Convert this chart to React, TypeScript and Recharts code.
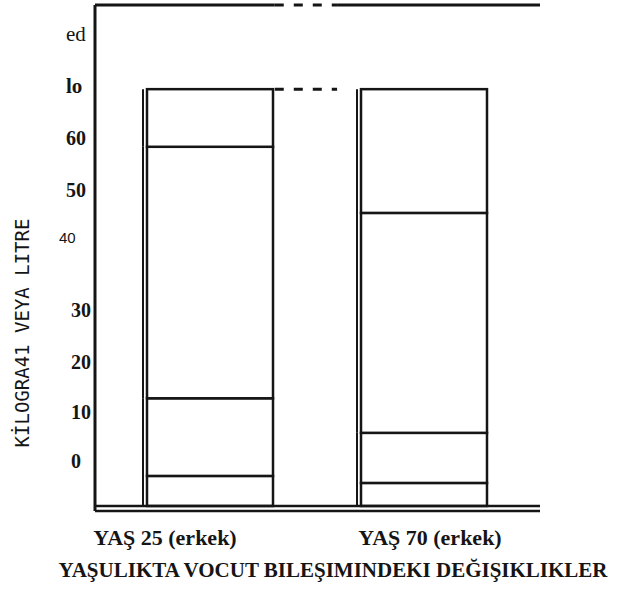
import { BarChart, Bar, XAxis, YAxis, ReferenceLine } from 'recharts';

// two age groups, body composition stacked from the bottom up
const CATEGORIES = ['YAŞ 25 (erkek)', 'YAŞ 70 (erkek)'];
const SEG_BOTTOM = [6.0, 4.6];
const SEG_LOW = [15.5, 10.0];
const SEG_MID = [50.2, 43.9];
const SEG_TOP = [11.5, 24.7];

// tick values sit where the printed labels are
const Y_TICKS = [9.0, 18.8, 28.7, 39.1, 53.5, 63.1, 73.5, 84.0, 94.2];
const Y_LABELS = ['0', '10', '20', '30', '40', '50', '60', 'lo', 'ed'];

// gap between the two bars where the frame lines turn dashed (fraction of plot width)
const GAP = [0.404, 0.544];

const TITLE = 'YAŞULIKTA VOCUT BILEŞIMINDEKI DEĞIŞIKLIKLER';
const Y_TITLE = 'KİLOGRA41 VEYA LITRE';

const data = CATEGORIES.map((name, i) => ({
  name,
  a: SEG_BOTTOM[i],
  b: SEG_LOW[i],
  c: SEG_MID[i],
  d: SEG_TOP[i],
}));
const barTop = SEG_BOTTOM[0] + SEG_LOW[0] + SEG_MID[0] + SEG_TOP[0];

const INK = '#151515';
const SERIF = '"Liberation Serif", "Times New Roman", serif';

const tickLook: Record<string, { x: number; font: string; size: number; weight: number }> = {
  ed: { x: 66, font: SERIF, size: 21, weight: 400 },
  lo: { x: 66, font: SERIF, size: 21, weight: 700 },
  '60': { x: 66, font: SERIF, size: 20, weight: 700 },
  '50': { x: 66, font: SERIF, size: 20, weight: 700 },
  '40': { x: 59, font: '"Liberation Sans", Arial, sans-serif', size: 15, weight: 400 },
};

function YTick(props: any) {
  const { y, index } = props;
  const label = Y_LABELS[index];
  const look = tickLook[label] || { x: 71, font: SERIF, size: 20, weight: 700 };
  return (
    <text x={look.x} y={y} dy="0.35em" textAnchor="start" fill={INK}
      fontFamily={look.font} fontSize={look.size} fontWeight={look.weight}>
      {label}
    </text>
  );
}

const LABEL_SHIFT = [-45, 6];

function XTick(props: any) {
  const { x, y, index, payload } = props;
  return (
    <text x={x + LABEL_SHIFT[index]} y={y} dy={26} textAnchor="middle" fill={INK}
      fontFamily={SERIF} fontSize={22} fontWeight={700}>
      {payload.value}
    </text>
  );
}

function Segment(props: any) {
  const { x, y, width, height } = props;
  if (!width || height == null) return null;
  return (
    <g>
      <rect x={x} y={y} width={width} height={height} fill="#fff" stroke={INK} strokeWidth={2.5} />
      <line x1={x - 4} x2={x - 4} y1={y} y2={y + height} stroke={INK} strokeWidth={2} />
    </g>
  );
}

// horizontal line, solid outside the gap and dashed inside it
function FrameLine(props: any) {
  const { x1, x2, y1, solid } = props;
  const w = x2 - x1;
  const g0 = x1 + w * GAP[0];
  const g1 = x1 + w * GAP[1];
  return (
    <g>
      {solid && <line x1={x1} x2={g0} y1={y1} y2={y1} stroke={INK} strokeWidth={3} />}
      <line x1={g0} x2={g1} y1={y1} y2={y1} stroke={INK} strokeWidth={3} strokeDasharray="9 10" />
      {solid && <line x1={g1} x2={x2} y1={y1} y2={y1} stroke={INK} strokeWidth={3} />}
    </g>
  );
}

export default function App() {
  return (
    <div style={{ position: 'absolute', left: 0, top: 0, background: '#fff' }}>
      <BarChart width={618} height={592} data={data} margin={{ top: 5, right: 78, left: 0, bottom: 0 }}>
        <XAxis dataKey="name" height={81} padding={{ left: 8, right: 9 }} tickLine={false}
          axisLine={{ stroke: INK, strokeWidth: 2.5 }} tick={<XTick />} interval={0}
          label={{
            content: () => (
              <text x={333} y={577} textAnchor="middle" fill={INK} fontFamily={SERIF}
                fontSize={21} fontWeight={700}>{TITLE}</text>
            ),
          }} />
        <YAxis type="number" domain={[-1, 100]} ticks={Y_TICKS} interval={0} width={95}
          allowDataOverflow tickLine={false} axisLine={{ stroke: INK, strokeWidth: 3 }} tick={<YTick />}
          label={{
            content: () => (
              <text x={29} y={333} transform="rotate(-90 29 333)" textAnchor="middle" fill={INK}
                fontFamily='"DejaVu Sans Mono", monospace' fontSize={19}>{Y_TITLE}</text>
            ),
          }} />
        <Bar dataKey="a" stackId="s" barSize={126} shape={<Segment />} isAnimationActive={false} />
        <Bar dataKey="b" stackId="s" barSize={126} shape={<Segment />} isAnimationActive={false} />
        <Bar dataKey="c" stackId="s" barSize={126} shape={<Segment />} isAnimationActive={false} />
        <Bar dataKey="d" stackId="s" barSize={126} shape={<Segment />} isAnimationActive={false} />
        <ReferenceLine y={0} stroke={INK} strokeWidth={2.5} />
        <ReferenceLine y={100} ifOverflow="visible" shape={(p: any) => <FrameLine {...p} solid />} />
        <ReferenceLine y={barTop} ifOverflow="visible" shape={(p: any) => <FrameLine {...p} solid={false} />} />
      </BarChart>
    </div>
  );
}
